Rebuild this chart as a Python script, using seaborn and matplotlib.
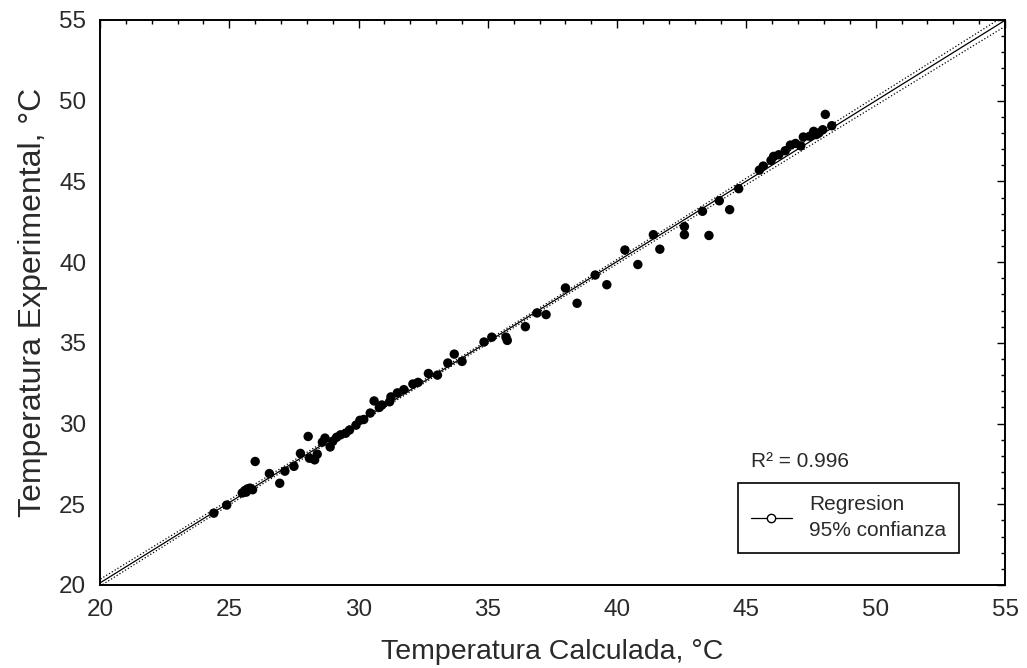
import numpy as np
import pandas as pd
import seaborn as sns
import matplotlib.pyplot as plt
from matplotlib.lines import Line2D
from matplotlib.ticker import MultipleLocator

# temperatura calculada vs experimental
t_calc = [24.4, 24.9, 25.5, 25.6, 25.7, 25.8, 25.9, 25.65, 26.0, 26.55,
          26.95, 27.15, 27.5, 27.75, 28.05, 28.1, 28.3, 28.4, 28.6, 28.7,
          28.9, 29.0, 29.15, 29.3, 29.5, 29.65, 29.9, 30.05, 30.2, 30.45,
          30.6, 30.8, 30.9, 31.2, 31.25, 31.5, 31.75, 32.1, 32.3, 32.7,
          33.05, 33.45, 33.7, 34.0, 34.85, 35.15, 35.7, 35.75, 36.45, 36.9,
          37.25, 38.0, 38.45, 39.15, 39.6, 40.3, 40.8, 41.4, 41.65, 42.6,
          42.6, 43.3, 43.55, 43.95, 44.35, 44.7, 45.5, 45.65, 45.95, 46.05,
          46.25, 46.5, 46.7, 46.9, 47.1, 47.2, 47.45, 47.6, 47.7, 47.8,
          47.95, 48.05, 48.3]
t_exp = [24.45, 24.95, 25.7, 25.85, 25.95, 26.0, 25.9, 25.75, 27.65, 26.9,
         26.3, 27.05, 27.35, 28.15, 29.2, 27.85, 27.75, 28.1, 28.85, 29.1,
         28.55, 28.9, 29.15, 29.3, 29.4, 29.6, 29.9, 30.2, 30.25, 30.65,
         31.4, 31.0, 31.15, 31.35, 31.65, 31.9, 32.1, 32.45, 32.55, 33.1,
         33.0, 33.75, 34.3, 33.85, 35.05, 35.35, 35.35, 35.15, 36.0, 36.85,
         36.75, 38.4, 37.45, 39.2, 38.6, 40.75, 39.85, 41.7, 40.8, 42.2,
         41.7, 43.15, 41.65, 43.8, 43.25, 44.55, 45.7, 45.95, 46.3, 46.55,
         46.65, 46.9, 47.25, 47.35, 47.2, 47.75, 47.8, 48.1, 47.9, 48.0,
         48.2, 49.15, 48.45]
r2_text = "R² = 0.996"

df = pd.DataFrame({"calc": t_calc, "exp": t_exp})

sns.set_style("white")
plt.rcParams["font.family"] = ["Liberation Sans", "DejaVu Sans"]
txt = "#2a2a2a"

fig = plt.figure(figsize=(10.27, 6.68), dpi=100)
ax = fig.add_axes([0.0974, 0.1243, 0.8812, 0.8458])
ax.set_xlim(20, 55)
ax.set_ylim(20, 55)

sns.regplot(data=df, x="calc", y="exp", ax=ax, ci=95, truncate=False, seed=0,
            scatter_kws=dict(s=46, color="black", edgecolor="none", alpha=1),
            line_kws=dict(color="black", lw=0.9))

# confidence band as dotted outlines instead of a fill
for coll in ax.collections[1:]:
    coll.set_facecolor("none")
    coll.set_edgecolor("black")
    coll.set_linestyle(":")
    coll.set_linewidth(0.9)
    coll.set_alpha(1)

ax.xaxis.set_major_locator(MultipleLocator(5))
ax.yaxis.set_major_locator(MultipleLocator(5))
ax.xaxis.set_minor_locator(MultipleLocator(1))
ax.yaxis.set_minor_locator(MultipleLocator(1))
ax.tick_params(which="both", direction="in", top=True, right=True,
               color="black", width=1)
ax.tick_params(which="major", length=6, labelsize=17.5, labelcolor=txt, pad=10)
ax.tick_params(which="minor", length=3)
for s in ax.spines.values():
    s.set_color("black")
    s.set_linewidth(1.4)

ax.set_xlabel("Temperatura Calculada, °C", fontsize=20.5, color=txt, labelpad=13)
ax.set_ylabel("Temperatura Experimental, °C", fontsize=23, color=txt, labelpad=8)

ax.text(0.719, 0.219, r2_text, transform=ax.transAxes, fontsize=15,
        color=txt, va="center", ha="left")

handle = Line2D([0], [0], color="black", lw=0.9, marker="o", ms=6,
                mfc="white", mec="black")
leg = ax.legend([handle], ["Regresion\n95% confianza"], loc="upper left",
                bbox_to_anchor=(0.705, 0.1805), borderaxespad=0,
                fancybox=False, edgecolor="black", framealpha=1, fontsize=15,
                handlelength=2.0, borderpad=0.6, labelcolor=txt,
                handletextpad=0.8)
leg.get_frame().set_linewidth(1.2)
for t in leg.get_texts():
    t.set_linespacing(1.45)

fig.savefig("out.png", dpi=100)
